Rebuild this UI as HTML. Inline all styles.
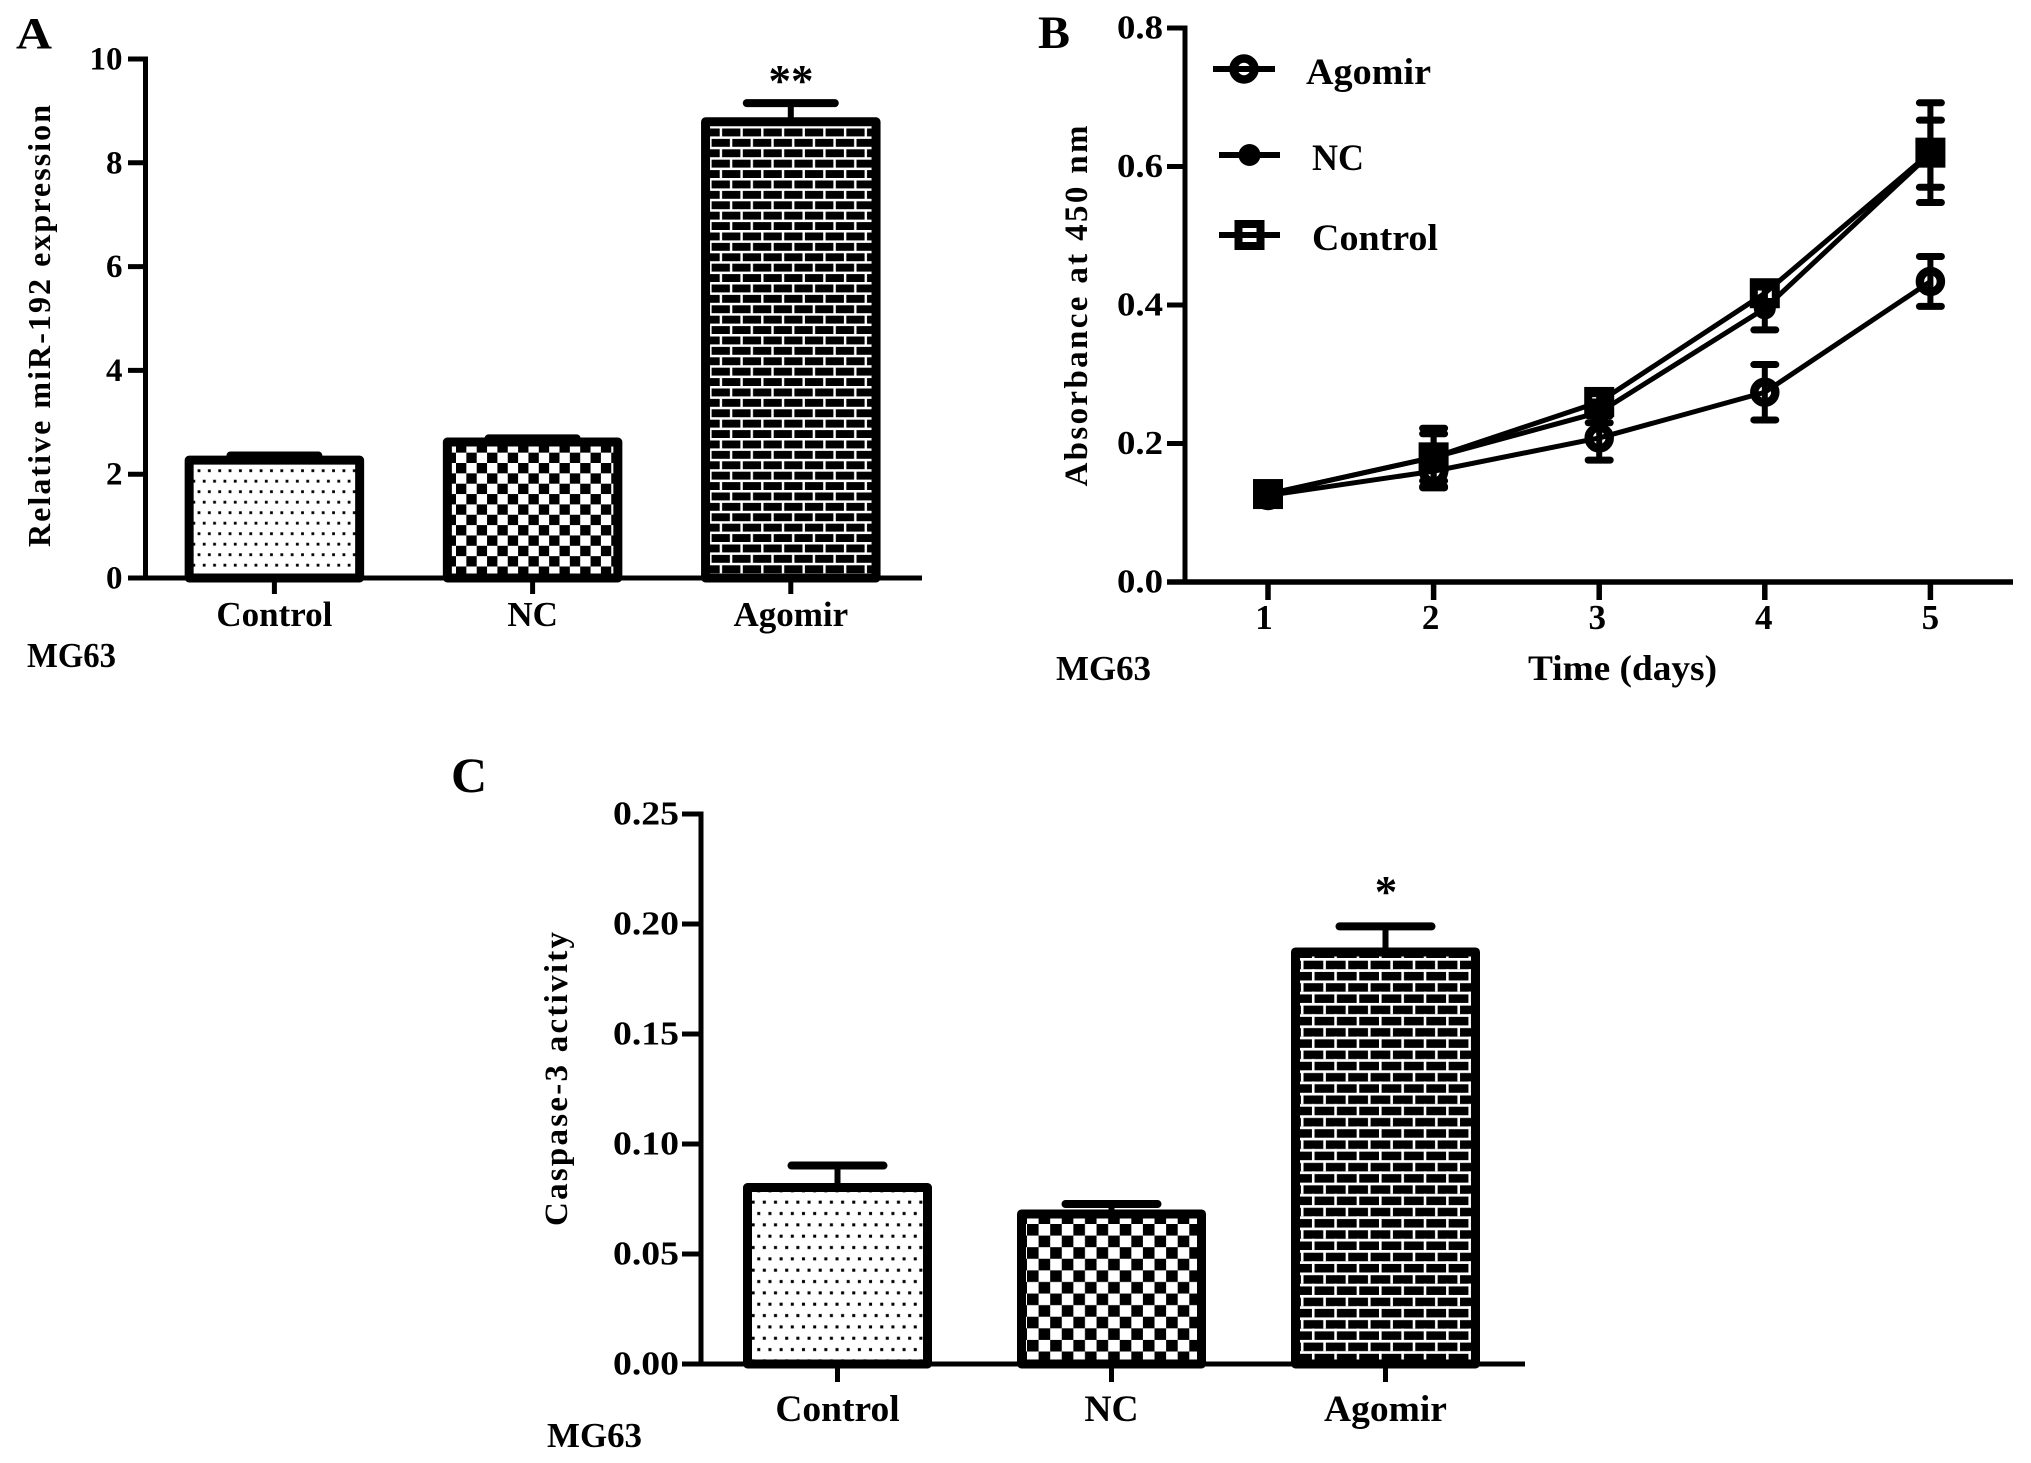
<!DOCTYPE html>
<html lang="en">
<head>
<meta charset="utf-8">
<title>miR-192 MG63 figure</title>
<style>
html,body{margin:0;padding:0;background:#fff;}
svg{display:block;}
text{font-family:"Liberation Serif",serif;font-weight:bold;fill:#000;}
</style>
</head>
<body>
<svg id="figure" xmlns="http://www.w3.org/2000/svg" width="2031" height="1463" viewBox="0 0 2031 1463">
  <defs>
    <pattern id="dots" patternUnits="userSpaceOnUse" width="10.35" height="21" patternTransform="translate(197 468.7)">
      <rect width="10.35" height="21" fill="#fff"/>
      <rect x="0.6" y="0.6" width="2.8" height="2.8" fill="#000"/>
      <rect x="5.8" y="11.1" width="2.8" height="2.8" fill="#000"/>
    </pattern>
    <pattern id="checker" patternUnits="userSpaceOnUse" width="20.7" height="20.7" patternTransform="translate(456 463)">
      <rect width="20.7" height="20.7" fill="#fff"/>
      <rect x="0" y="0" width="10.35" height="10.35" fill="#000"/>
      <rect x="10.35" y="10.35" width="10.35" height="10.35" fill="#000"/>
    </pattern>
    <pattern id="bricks" patternUnits="userSpaceOnUse" width="20.7" height="20.8" patternTransform="translate(720.7 126)">
      <rect width="20.7" height="20.8" fill="#000"/>
      <rect x="0" y="0" width="20.7" height="2.5" fill="#fff"/>
      <rect x="0" y="10.4" width="20.7" height="2.5" fill="#fff"/>
      <rect x="-1" y="0" width="2.4" height="10.4" fill="#fff"/>
      <rect x="19.7" y="0" width="2.4" height="10.4" fill="#fff"/>
      <rect x="9.2" y="10.4" width="2.4" height="10.4" fill="#fff"/>
    </pattern>
    <pattern id="dotsC" patternUnits="userSpaceOnUse" width="10.35" height="21" patternTransform="translate(751 1200) scale(1.08)">
      <rect width="10.35" height="21" fill="#fff"/>
      <rect x="0.6" y="0.6" width="2.8" height="2.8" fill="#000"/>
      <rect x="5.8" y="11.1" width="2.8" height="2.8" fill="#000"/>
    </pattern>
    <pattern id="checkerC" patternUnits="userSpaceOnUse" width="20.7" height="20.7" patternTransform="translate(1027 1224) scale(1.12)">
      <rect width="20.7" height="20.7" fill="#fff"/>
      <rect x="0" y="0" width="10.35" height="10.35" fill="#000"/>
      <rect x="10.35" y="10.35" width="10.35" height="10.35" fill="#000"/>
    </pattern>
    <pattern id="bricksC" patternUnits="userSpaceOnUse" width="20.7" height="20.8" patternTransform="translate(1302 958) scale(1.08)">
      <rect width="20.7" height="20.8" fill="#000"/>
      <rect x="0" y="0" width="20.7" height="2.5" fill="#fff"/>
      <rect x="0" y="10.4" width="20.7" height="2.5" fill="#fff"/>
      <rect x="-1" y="0" width="2.4" height="10.4" fill="#fff"/>
      <rect x="19.7" y="0" width="2.4" height="10.4" fill="#fff"/>
      <rect x="9.2" y="10.4" width="2.4" height="10.4" fill="#fff"/>
    </pattern>
  </defs>
</svg>
<script>
// ---- Panel A data ----
const categoriesA = ['Control', 'NC', 'Agomir'];
const valuesA = [2.27, 2.62, 8.79];
const errorsA = [0.09, 0.07, 0.36];
const ticksA = [0, 2, 4, 6, 8, 10];
const tickLabelsA = ['0', '2', '4', '6', '8', '10'];

// ---- Panel B data ----
const days = [1, 2, 3, 4, 5];
const dayLabels = ['1', '2', '3', '4', '5'];
const agomirValues = [0.125, 0.16, 0.208, 0.274, 0.434];
const agomirErrors = [0.005, 0.024, 0.032, 0.04, 0.036];
const ncValues = [0.127, 0.18, 0.245, 0.395, 0.6185];
const ncErrors = [0.005, 0.034, 0.015, 0.031, 0.0485];
const controlValues = [0.127, 0.18, 0.26, 0.417, 0.62];
const controlErrors = [0.005, 0.042, 0.012, 0.012, 0.072];
const ticksB = [0, 0.2, 0.4, 0.6, 0.8];
const tickLabelsB = ['0.0', '0.2', '0.4', '0.6', '0.8'];

// ---- Panel C data ----
const categoriesC = ['Control', 'NC', 'Agomir'];
const valuesC = [0.0802, 0.0682, 0.1873];
const errorsC = [0.01, 0.0045, 0.0116];
const ticksC = [0, 0.05, 0.1, 0.15, 0.2, 0.25];
const tickLabelsC = ['0.00', '0.05', '0.10', '0.15', '0.20', '0.25'];

const NS = 'http://www.w3.org/2000/svg';
const root = document.getElementById('figure');

function make(parent, tag, attrs) {
  const el = document.createElementNS(NS, tag);
  for (const k in attrs) el.setAttribute(k, attrs[k]);
  parent.appendChild(el);
  return el;
}
function line(parent, x1, y1, x2, y2, w, cap) {
  return make(parent, 'line', {x1, y1, x2, y2, stroke: '#000', 'stroke-width': w, 'stroke-linecap': cap || 'butt'});
}
function label(parent, str, x, y, size, anchor, len) {
  const attrs = {x, y, 'font-size': size, 'text-anchor': anchor || 'start'};
  if (len) {
    attrs.textLength = len;
    attrs.lengthAdjust = 'spacingAndGlyphs';
  }
  const t = make(parent, 'text', attrs);
  t.textContent = str;
  return t;
}
function vLabel(parent, str, x, yMid, size, len) {
  const t = make(parent, 'text', {
    x: x, y: yMid, 'font-size': size, 'text-anchor': 'middle', textLength: len,
    transform: 'rotate(-90 ' + x + ' ' + yMid + ')'
  });
  t.textContent = str;
  return t;
}
function group(name) {
  const g = make(root, 'g', {});
  
  
  return g;
}

function drawYAxis(g, yScale, ticks, labels, axisX, tickLeft, labelRight, size, len) {
  const axis = line(g, axisX, yScale(ticks[ticks.length - 1]) - 2.5, axisX, yScale(ticks[0]) + 2, 5);
  
  
  ticks.forEach(function (v, i) {
    const tick = line(g, tickLeft, yScale(v), axisX, yScale(v), 5);
    
    
    const t = label(g, labels[i], labelRight, yScale(v) + 10.5, size, 'end', len);
    
    
  });
}

function drawBars(g, cats, vals, errs, cfg) {
  const xAt = function (i) { return cfg.x0 + cfg.step * i; };
  cats.forEach(function (c, i) {
    const cx = xAt(i);
    const top = cfg.y(vals[i]);
    const capY = cfg.y(vals[i] + errs[i]);
    const stem = line(g, cx, top, cx, capY, 6);
    
    
    const cap = line(g, cx - cfg.capW / 2, capY, cx + cfg.capW / 2, capY, 8, 'round');
    
    
    const bar = make(g, 'rect', {
      x: cx - cfg.barW / 2, y: top, width: cfg.barW, height: cfg.y(0) - top,
      fill: cfg.fills[i], stroke: '#000', 'stroke-width': cfg.border, 'stroke-linejoin': 'round'
    });
    
    
    const tick = line(g, cx, cfg.y(0), cx, cfg.tickBottom, 5);
    
    
    const t = label(g, c, cx, cfg.labelY, cfg.labelSize, 'middle');
    
    
  });
  const xAxis = line(g, cfg.axisLeft, cfg.y(0), cfg.axisRight, cfg.y(0), 5);
  
  
}

// ---------- Panel A ----------
const gA = group('panel-a');
const yA = function (v) { return 578 - v * 51.9; };
drawBars(gA, categoriesA, valuesA, errorsA, {
  x0: 274.4, step: 258.2, barW: 170.5, border: 9, capW: 88, y: yA,
  tickBottom: 594, labelY: 626, labelSize: 35, axisLeft: 128, axisRight: 922,
  fills: ['url(#dots)', 'url(#checker)', 'url(#bricks)']
});
drawYAxis(gA, yA, ticksA, tickLabelsA, 145.5, 128, 122.5, 33);
const titleA = vLabel(gA, 'Relative miR-192 expression', 50, 326, 32, 442);


const letterA = label(gA, 'A', 16, 48, 44, 'start', 36);


const cellA = label(gA, 'MG63', 27, 667, 35, 'start', 89);


const sigA = label(gA, '**', 791, 96, 45, 'middle');



// ---------- Panel B ----------
const gB = group('panel-b');
const xB = function (d) { return 1268 + (d - 1) * 165.6; };
const yB = function (v) { return 582 - v * 692.5; };

function drawMarker(g, kind, cx, cy) {
  let m;
  if (kind === 'agomir') {
    m = make(g, 'circle', {cx: cx, cy: cy, r: 10.5, fill: 'none', stroke: '#000', 'stroke-width': 8.5});
  } else if (kind === 'nc') {
    m = make(g, 'circle', {cx: cx, cy: cy, r: 11, fill: '#000'});
  } else {
    m = make(g, 'rect', {x: cx - 11, y: cy - 11, width: 22, height: 22, fill: 'none', stroke: '#000', 'stroke-width': 8});
  }
  
  
}
function drawSeries(kind, vals, errs) {
  const pts = days.map(function (d, i) { return xB(d) + ',' + yB(vals[i]); }).join(' ');
  const path = make(gB, 'polyline', {points: pts, fill: 'none', stroke: '#000', 'stroke-width': 5, 'stroke-linejoin': 'round'});
  
  
  days.forEach(function (d, i) {
    const x = xB(d);
    const hi = yB(vals[i] + errs[i]);
    const lo = yB(vals[i] - errs[i]);
    const stem = line(gB, x, hi, x, lo, 6);
    
    
    const capHi = line(gB, x - 11, hi, x + 11, hi, 7, 'round');
    
    
    const capLo = line(gB, x - 11, lo, x + 11, lo, 7, 'round');
    
    
    drawMarker(gB, kind, x, yB(vals[i]));
  });
}
drawSeries('agomir', agomirValues, agomirErrors);
drawSeries('nc', ncValues, ncErrors);
drawSeries('control', controlValues, controlErrors);

drawYAxis(gB, yB, ticksB, tickLabelsB, 1185, 1167, 1163, 34, 46);
const xAxisB = line(gB, 1167, yB(0), 2013, yB(0), 5.5);


days.forEach(function (d, i) {
  const tick = line(gB, xB(d), yB(0), xB(d), 600, 5.5);
  
  
  const t = label(gB, dayLabels[i], xB(d) - 4 + i, 629, 35, 'middle');
  
  
});
const titleB = vLabel(gB, 'Absorbance at 450 nm', 1087, 306, 33, 361);


const xTitleB = label(gB, 'Time (days)', 1528, 680, 36, 'start', 189);


const letterB = label(gB, 'B', 1038, 48, 47, 'start', 32);


const cellB = label(gB, 'MG63', 1056, 680, 35, 'start', 95);



const legendEntries = ['Agomir', 'NC', 'Control'];
const legendKinds = ['agomir', 'nc', 'control'];
const legendG = make(gB, 'g', {});


const legendLayout = [
  {x1: 1213, x2: 1275, y: 69, tx: 1306, base: 84, len: 125},
  {x1: 1219, x2: 1280, y: 155, tx: 1312, base: 170, len: 52},
  {x1: 1219, x2: 1280, y: 235, tx: 1312, base: 250, len: 126}
];
legendEntries.forEach(function (name, i) {
  const L = legendLayout[i];
  const sw = line(legendG, L.x1, L.y, L.x2, L.y, 6);
  
  
  drawMarker(legendG, legendKinds[i], (L.x1 + L.x2) / 2, L.y);
  const t = label(legendG, name, L.tx, L.base, 37, 'start', L.len);
  
  
});

// ---------- Panel C ----------
const gC = group('panel-c');
const yC = function (v) { return 1364 - v * 2200; };
drawBars(gC, categoriesC, valuesC, errorsC, {
  x0: 837.5, step: 274, barW: 180, border: 9, capW: 92, y: yC,
  tickBottom: 1382, labelY: 1421, labelSize: 37.5, axisLeft: 682, axisRight: 1525,
  fills: ['url(#dotsC)', 'url(#checkerC)', 'url(#bricksC)']
});
drawYAxis(gC, yC, ticksC, tickLabelsC, 701, 682, 679, 34, 66);
const titleC = vLabel(gC, 'Caspase-3 activity', 567, 1079, 33, 294);


const letterC = label(gC, 'C', 451, 792, 50);


const cellC = label(gC, 'MG63', 547, 1447, 35, 'start', 95);


const sigC = label(gC, '*', 1386, 907, 45, 'middle');


</script>
</body>
</html>
